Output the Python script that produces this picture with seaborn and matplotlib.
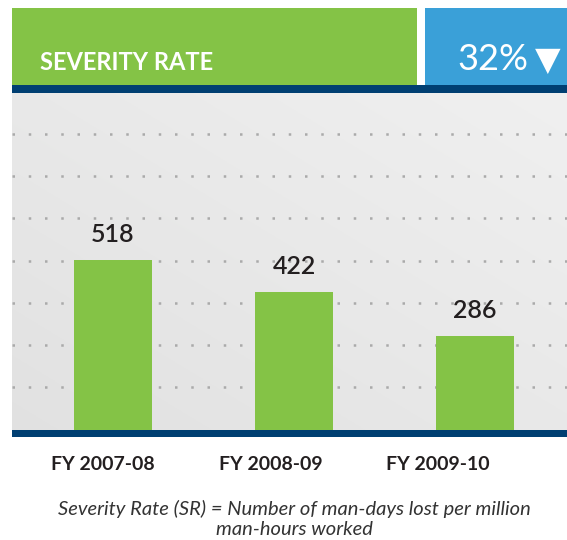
# Severity rate bar chart
import numpy as np
import pandas as pd
import matplotlib
matplotlib.use('Agg')
import matplotlib.pyplot as plt
import seaborn as sns
from matplotlib.patches import Rectangle

# Data
years = ['FY 2007-08', 'FY 2008-09', 'FY 2009-10']
severity_rate = [518, 422, 286]
title = 'SEVERITY RATE'
change_text = '32%'
footnote = 'Severity Rate (SR) = Number of man-days lost per million\nman-hours worked'

df = pd.DataFrame({'year': years, 'sr': severity_rate})

# Colours
green = '#84c346'
blue = '#3aa0d8'
navy = '#003f72'
dark = '#231f20'

sns.set_style('white')
plt.rcParams['font.family'] = ['Lato', 'DejaVu Sans']

W, H = 567, 540
fig = plt.figure(figsize=(W / 100, H / 100), dpi=100)

def fx(px):
    return px / W

def fy(py):
    return 1 - py / H

# Plot area
ax = fig.add_axes([fx(12), fy(430), fx(567) - fx(12), fy(93) - fy(430)])

# gradient background
grad = np.linspace(0, 1, 256)
gx, gy = np.meshgrid(grad, grad)
bg = 0.5 * gx + 0.5 * gy
ax.imshow(bg, cmap=sns.light_palette('#e0e0e0', reverse=True, as_cmap=True),
          extent=[0, 1, 0, 1], transform=ax.transAxes, aspect='auto',
          origin='lower', zorder=0, vmin=-0.1, vmax=1.05)

sns.barplot(data=df, x='year', y='sr', color=green, saturation=1,
            width=0.43, linewidth=0, ax=ax, zorder=3)
ax.set_xlim(-0.558, 2.508)
ax.set_ylim(0, 1028)

# dotted guide lines
for yv in np.arange(130, 1000, 129):
    ax.axhline(yv, color='#aaaaaa', linestyle=(0, (1, 5.5)), linewidth=1.8,
               zorder=1)

ax.bar_label(ax.containers[0], padding=10, fontsize=18, color=dark,
             fontweight='semibold')

ax.set_xticks([])
ax.set_yticks([])
ax.set_xlabel('')
ax.set_ylabel('')
for s in ax.spines.values():
    s.set_visible(False)

# header boxes and rules
fig.add_artist(Rectangle((fx(12), fy(85)), fx(417) - fx(12), fy(8) - fy(85),
                         transform=fig.transFigure, color=green, lw=0))
fig.add_artist(Rectangle((fx(425), fy(85)), fx(567) - fx(425), fy(8) - fy(85),
                         transform=fig.transFigure, color=blue, lw=0))
fig.add_artist(Rectangle((fx(12), fy(93)), fx(567) - fx(12), fy(85) - fy(93),
                         transform=fig.transFigure, color=navy, lw=0))
fig.add_artist(Rectangle((fx(12), fy(437)), fx(567) - fx(12), fy(430) - fy(437),
                         transform=fig.transFigure, color=navy, lw=0))

fig.text(fx(40), fy(62), title, color='white', fontsize=17,
         fontweight='bold', va='center', ha='left')
fig.text(fx(528), fy(60), change_text, color='white', fontsize=26,
         va='center', ha='right')
fig.text(fx(548), fy(60), '\u25bc', color='white', fontsize=24,
         va='center', ha='center', family=['DejaVu Sans'])

# category labels
for i, lab in enumerate(years):
    fig.text(fx(103 + 167.5 * i), fy(464), lab, color=dark, fontsize=14,
             fontweight='bold', ha='center', va='center')

fig.text(fx(294), fy(519), footnote, color='#333333', fontsize=14.5,
         style='italic', ha='center', va='center', linespacing=1.15)

fig.savefig('out.png', dpi=100)
